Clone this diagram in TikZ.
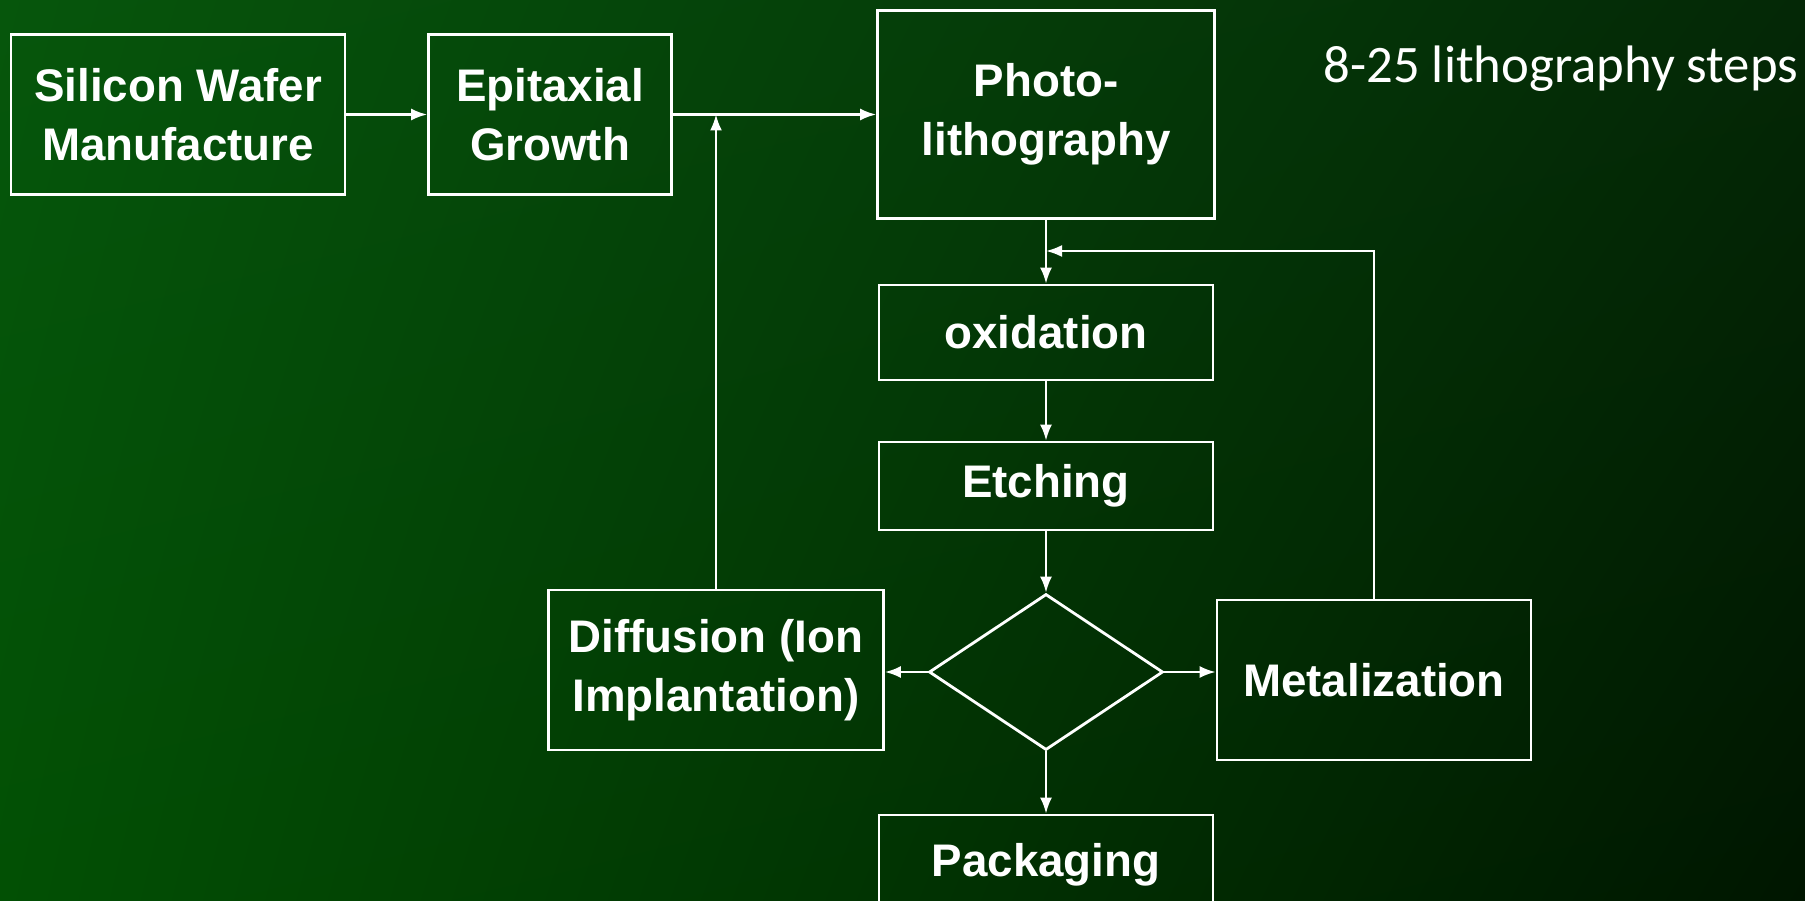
\documentclass[tikz,border=0pt]{standalone}
\usepackage{fontspec}
\setmainfont{Liberation Sans}
\newfontfamily\notefont{Carlito}
\usetikzlibrary{arrows.meta,shapes.geometric,shadings}

\definecolor{bgul}{RGB}{6,86,12}
\definecolor{bgur}{RGB}{4,40,6}
\definecolor{bgll}{RGB}{2,80,4}
\definecolor{bglr}{RGB}{0,22,0}

\begin{document}
\begin{tikzpicture}[
		stepbox/.style={draw=white, line width=0.8pt, align=center, text=white,
			font=\fontsize{13}{16.8}\selectfont\bfseries, inner sep=0pt},
		flow/.style={draw=white, line width=0.6pt, -{Latex[length=1.6mm,width=1.2mm]}}]
		\useasboundingbox (0,0) rectangle (18.05,9);
		\clip (0,0) rectangle (18.05,9);
		\shade[upper left=bgul, upper right=bgur, lower left=bgll, lower right=bglr]
			(0,0) rectangle (18.05,9);
		\node[stepbox, minimum width=3.34cm, minimum height=1.6cm] (wafer) at (1.78,7.855) {Silicon Wafer\\Manufacture};
		\node[stepbox, minimum width=2.43cm, minimum height=1.6cm] (epi) at (5.50,7.855) {Epitaxial\\Growth};
		\node[stepbox, minimum width=3.37cm, minimum height=2.08cm] (photo) at (10.46,7.855) {Photo-\\lithography};
		\node[text=white, font=\notefont\fontsize{15}{18}\selectfont] (note) at (15.61,8.31) {8-25 lithography steps};
		\node[stepbox, minimum width=3.34cm, minimum height=0.95cm] (oxid) at (10.46,5.675) {oxidation};
		\node[stepbox, minimum width=3.34cm, minimum height=0.88cm] (etch) at (10.46,4.14) {Etching};
		\node[draw=white, line width=0.8pt, diamond, minimum width=2.34cm, minimum height=1.56cm, inner sep=0pt] (dec) at (10.46,2.28) {};
		\node[stepbox, minimum width=3.35cm, minimum height=1.6cm] (diff) at (7.16,2.30) {Diffusion (Ion\\Implantation)};
		\node[stepbox, minimum width=3.14cm, minimum height=1.6cm] (metal) at (13.74,2.20) {Metalization};
		\node[stepbox, minimum width=3.34cm, minimum height=1.0cm] (pack) at (10.46,0.35) {Packaging};
		\coordinate (loop) at (13.74,6.49);
		\draw[flow] (wafer) -- (epi);
		\draw[flow] (epi) -- (photo);
		\draw[flow] (diff.north) -- (diff.north |- epi.east);
		\draw[flow] (photo) -- (oxid);
		\draw[flow] (metal.north) |- (photo.south |- loop);
		\draw[flow] (oxid) -- (etch);
		\draw[flow] (etch) -- (dec);
		\draw[flow] (dec.west) -- (dec.west -| diff.east);
		\draw[flow] (dec.east) -- (dec.east -| metal.west);
		\draw[flow] (dec.south) -- (pack.north);
	\end{tikzpicture}
\end{document}
